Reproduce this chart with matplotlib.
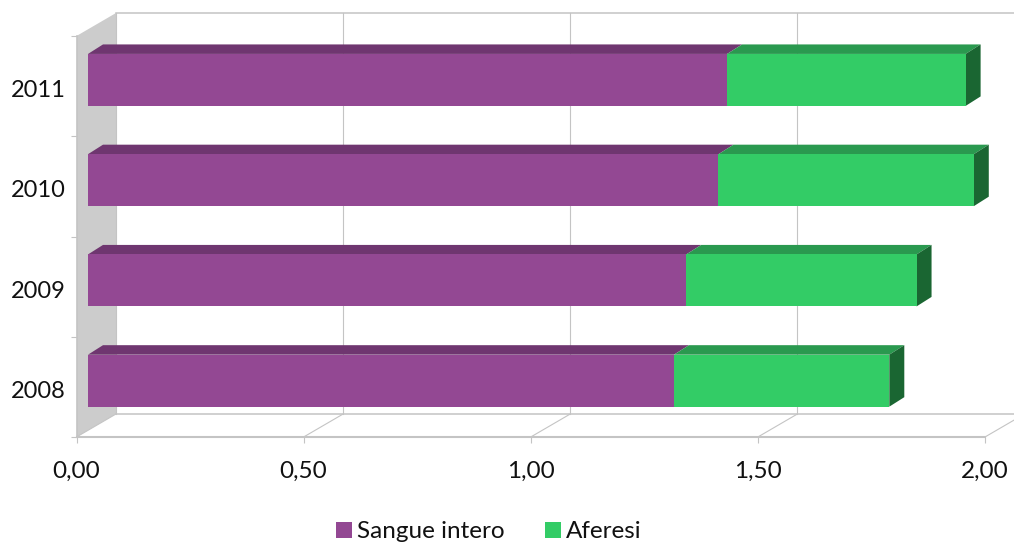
import matplotlib
matplotlib.use('Agg')
import matplotlib.pyplot as plt
from matplotlib.patches import Polygon, Rectangle

plt.rcParams['font.family'] = ['Lato', 'DejaVu Sans']

years = ['2008', '2009', '2010', '2011']
sangue_intero = [1.29, 1.317, 1.388, 1.407]
aferesi = [0.474, 0.507, 0.562, 0.525]
x_ticks = [0, 0.5, 1, 1.5, 2]
x_labels = ['0,00', '0,50', '1,00', '1,50', '2,00']

W, H = 1014, 547
PX_X = 454.25     # pixels per unit on x
PX_Y = 100.25     # pixels per category
LEFT, FLOOR = 76.5, 437

# oblique depth of the chart box, in data units
DX = 39.5 / PX_X
DY = 23 / PX_Y
BAR_DX = 11.5 / PX_X    # bar front offset from the axis plane
BAR_DY = 6.2 / PX_Y
BAR_OX = 15 / PX_X      # bar depth
BAR_OY = 9.5 / PX_Y
BAR_H = 52 / PX_Y

GRID = '#C4C4C4'
WALL = '#CCCCCC'
PURPLE = ('#934893', '#6F3670', '#57295A')
GREEN = ('#33CC66', '#2A994F', '#1A6632')

fig = plt.figure(figsize=(W / 100, H / 100), dpi=100)
ax = fig.add_axes([LEFT / W, (H - FLOOR) / H, 1 - LEFT / W, FLOOR / H])
ax.set_xlim(0, (W - LEFT) / PX_X)
ax.set_ylim(0, FLOOR / PX_Y)


def box(left, width, row, colors):
    # front and top faces of one bar segment
    x0 = left + BAR_DX
    x1 = left + width + BAR_DX
    y0 = row + 0.5 + BAR_DY - BAR_H / 2
    y1 = y0 + BAR_H
    ax.add_patch(Rectangle((x0, y0), x1 - x0, BAR_H, fc=colors[0], ec='none', zorder=4))
    ax.add_patch(Polygon([(x0, y1), (x1, y1), (x1 + BAR_OX, y1 + BAR_OY), (x0 + BAR_OX, y1 + BAR_OY)],
                         fc=colors[1], ec='none', zorder=3))
    return x1, y0, y1


# grey side wall
ax.add_patch(Polygon([(0, 0), (DX, DY), (DX, 4 + DY), (0, 4)], fc=WALL, ec='none', zorder=1))

# back wall and floor lines
for t in x_ticks:
    ax.plot([t, t + DX], [0, DY], color=GRID, lw=0.8, zorder=2)
    ax.plot([t + DX, t + DX], [DY, 4 + DY], color=GRID, lw=0.8, zorder=2)
ax.plot([DX, 2 + DX], [DY, DY], color=GRID, lw=1.1, zorder=2)
ax.plot([DX, 2 + DX], [4 + DY, 4 + DY], color=GRID, lw=1.1, zorder=2)

for i in range(len(years)):
    box(0, sangue_intero[i], i, PURPLE)
    x1, y0, y1 = box(sangue_intero[i], aferesi[i], i, GREEN)
    ax.add_patch(Polygon([(x1, y0), (x1 + BAR_OX, y0 + BAR_OY), (x1 + BAR_OX, y1 + BAR_OY), (x1, y1)],
                         fc=GREEN[2], ec='none', zorder=3))

# axes
for s in ['top', 'right']:
    ax.spines[s].set_visible(False)
ax.spines['left'].set_bounds(0, 4)
ax.spines['bottom'].set_bounds(0, 2)
ax.spines['left'].set_color(GRID)
ax.spines['bottom'].set_color(GRID)
ax.spines['left'].set_linewidth(1.2)
ax.spines['bottom'].set_linewidth(1.5)
ax.set_xticks(x_ticks)
ax.set_xticklabels(x_labels, fontsize=17.5, color='#111111')
ax.tick_params(axis='x', length=4.5, width=0.8, color=GRID, pad=12.5)
ax.set_yticks(range(5))
ax.set_yticklabels([])
ax.set_yticks([i + 0.475 for i in range(4)], minor=True)
ax.set_yticklabels(years, minor=True, fontsize=17, color='#111111')
ax.tick_params(axis='y', which='major', length=4.5, width=0.8, color=GRID)
ax.tick_params(axis='y', which='minor', length=0, pad=7.5)

handles = [Rectangle((0, 0), 1, 1, fc=PURPLE[0]), Rectangle((0, 0), 1, 1, fc=GREEN[0])]
fig.legend(handles, ['Sangue intero', 'Aferesi'], ncols=2, frameon=False, fontsize=17.5,
           loc='center', bbox_to_anchor=(489 / W, 1 - 532 / H), handlelength=0.66,
           handleheight=0.66, handletextpad=0.2, columnspacing=1.65,
           labelcolor='#111111', borderpad=0)

fig.savefig('out.png', dpi=100)
